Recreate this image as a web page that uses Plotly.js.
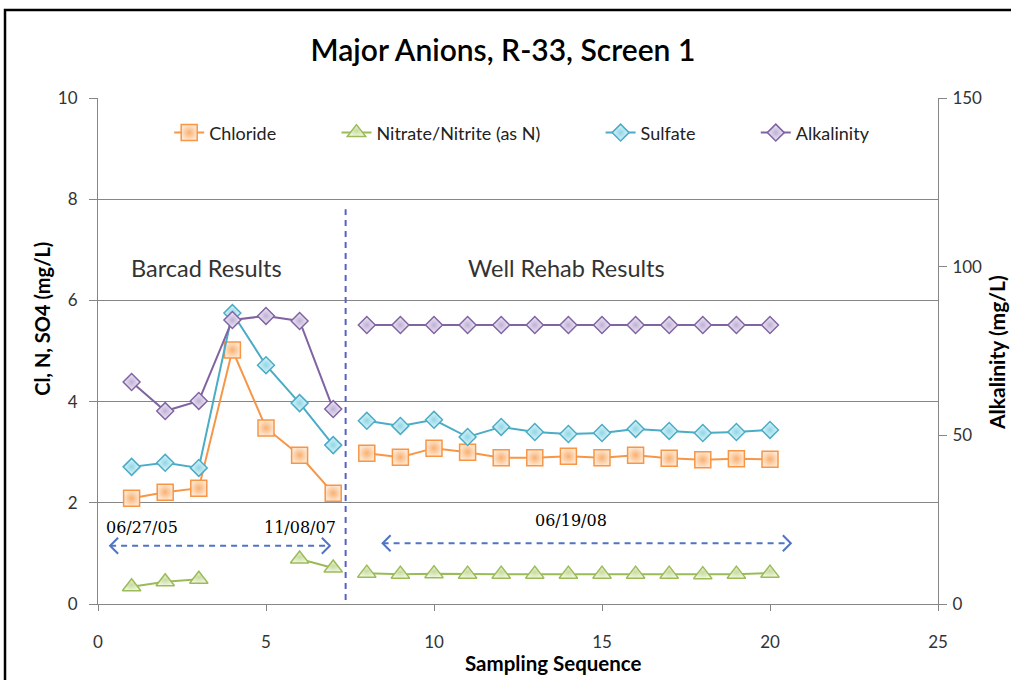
<!DOCTYPE html>
<html>
<head>
<meta charset="utf-8">
<script src="https://cdn.plot.ly/plotly-3.0.1.min.js"></script>
<style>html,body{margin:0;padding:0;background:#fff;}#chart{width:1011px;height:680px;}</style>
</head>
<body>
<div id="chart"></div>
<script>
// ---- data ----
const seq = [1,2,3,4,5,6,7,8,9,10,11,12,13,14,15,16,17,18,19,20];
const rehabStart = 8; // first sampling of the well-rehab phase
const chloride = [2.09,2.21,2.29,5.02,3.48,2.94,2.19, 2.98,2.90,3.08,3.00,2.89,2.89,2.92,2.89,2.94,2.88,2.85,2.87,2.86];
const nitrate  = [0.34,0.44,0.49,null,null,0.89,0.71, 0.61,0.59,0.60,0.59,0.59,0.59,0.59,0.59,0.59,0.59,0.58,0.59,0.61];
const sulfate  = [2.71,2.79,2.69,5.75,4.72,3.97,3.14, 3.62,3.52,3.64,3.30,3.50,3.40,3.36,3.38,3.46,3.42,3.38,3.40,3.44];
const alkalinity = [65.8,57.2,60.2,84.2,85.4,83.9,57.8, 82.7,82.7,82.7,82.7,82.7,82.7,82.7,82.7,82.7,82.7,82.7,82.7,82.7];
const seriesNames = ['Chloride','Nitrate/Nitrite (as N)','Sulfate','Alkalinity'];
const phaseLabels = ['Barcad Results','Well Rehab Results'];
const dateLabels = ['06/27/05','11/08/07','06/19/08'];

// insert a gap between the two phases so the lines are not joined
function gapX(){ const a=[],b=[]; seq.forEach(s=> (s<rehabStart?a:b).push(s)); return a.concat([null],b); }
function gapY(vals){ const a=[],b=[]; seq.forEach((s,i)=> (s<rehabStart?a:b).push(vals[i])); return a.concat([null],b); }
const pad = '\u00a0'.repeat(12); // extra spacing between legend entries

const X = gapX();
function mk(name, vals, color, fill, edge, symbol, size, yaxis, last){
  return {
    type:'scatter', mode:'lines+markers', name: last ? name : name + pad,
    x:X, y:gapY(vals), yaxis:yaxis||'y', connectgaps:false,
    line:{color:color, width:2},
    marker:{symbol:symbol, size:size, color:fill,
            gradient:{type:'radial', color:edge},
            line:{color:color, width:1.5}},
    hoverinfo:'x+y'
  };
}
const traces = [
  mk(seriesNames[0], chloride, '#F79646', '#FEE6D0', '#F9B070', 'square', 16),
  mk(seriesNames[1], nitrate, '#9BBB59', '#F0F6E0', '#C8DB9E', 'triangle-up', 16),
  mk(seriesNames[2], sulfate, '#4BACC6', '#E4F6FA', '#8FD6E6', 'diamond', 13),
  mk(seriesNames[3], alkalinity, '#8064A2', '#F0ECF6', '#BFB0D6', 'diamond', 13, 'y2', true)
];

const tickFont = {family:'Lato, sans-serif', size:17, color:'#333'};
const arrowColor = '#4F74C4';

function chevron(xData, yData, dir){
  // open arrow head drawn in pixels around a data anchor
  const w = 8*dir, h = 8;
  return {type:'path', xref:'x', yref:'y', xsizemode:'pixel', ysizemode:'pixel',
    xanchor:xData, yanchor:yData,
    path:`M ${-w} ${h} L 0 0 L ${-w} ${-h}`,
    line:{color:arrowColor, width:2}};
}

const layout = {
  width:1011, height:680,
  margin:{l:98, r:73, t:98, b:76},
  paper_bgcolor:'#fff', plot_bgcolor:'#fff',
  title:{text:'Major Anions, R-33, Screen 1', x:0.4975, xanchor:'center', y:0.926, yanchor:'middle',
         font:{family:'Lato, sans-serif', size:30, color:'#000', weight:600}},
  showlegend:true,
  legend:{orientation:'h', x:0.505, xanchor:'center', y:0.931, yanchor:'middle',
          font:{family:'Lato, sans-serif', size:18, color:'#222'}, bgcolor:'rgba(0,0,0,0)'},
  xaxis:{range:[0,25], dtick:5, tick0:0, showgrid:false, zeroline:false,
         showline:true, linecolor:'#868686', linewidth:1,
         ticks:'outside', ticklen:6, tickcolor:'#868686', ticklabelstandoff:17,
         tickfont:tickFont},
  yaxis:{range:[0,10], dtick:2, tick0:0, showgrid:true, gridcolor:'#868686', gridwidth:1, zeroline:false,
         showline:true, linecolor:'#868686', ticks:'outside', ticklen:8, tickcolor:'#868686',
         ticklabelstandoff:8, tickfont:tickFont},
  yaxis2:{range:[0,150], dtick:50, tick0:0, overlaying:'y', side:'right', showgrid:false, zeroline:false,
          showline:true, linecolor:'#868686', ticks:'outside', ticklen:8, tickcolor:'#868686',
          ticklabelstandoff:2, tickfont:tickFont},
  annotations:[
    {text:'Cl, N, SO4 (mg/L)', xref:'paper', yref:'paper', x:-0.067, y:0.563, textangle:-90,
     showarrow:false, xanchor:'center', yanchor:'middle',
     font:{family:'Lato, sans-serif', size:20, color:'#000', weight:'bold'}},
    {text:'Alkalinity (mg/L)', xref:'paper', yref:'paper', x:1.069, y:0.498, textangle:-90,
     showarrow:false, xanchor:'center', yanchor:'middle',
     font:{family:'Lato, sans-serif', size:21, color:'#000', weight:'bold'}},
    {text:'Sampling Sequence', xref:'paper', yref:'paper', x:0.542, y:-0.116,
     showarrow:false, xanchor:'center', yanchor:'middle',
     font:{family:'Lato, sans-serif', size:20.5, color:'#000', weight:'bold'}},
    {text:phaseLabels[0], xref:'x', yref:'y', x:3.235, y:6.64, showarrow:false,
     font:{family:'Lato, sans-serif', size:23.5, color:'#333'}},
    {text:phaseLabels[1], xref:'x', yref:'y', x:13.93, y:6.64, showarrow:false,
     font:{family:'Lato, sans-serif', size:23.5, color:'#333'}},
    {text:dateLabels[0], xref:'x', yref:'y', x:1.31, y:1.52, showarrow:false,
     font:{family:'DejaVu Serif, serif', size:16, color:'#000'}},
    {text:dateLabels[1], xref:'x', yref:'y', x:6.0, y:1.52, showarrow:false,
     font:{family:'DejaVu Serif, serif', size:16, color:'#000'}},
    {text:dateLabels[2], xref:'x', yref:'y', x:14.08, y:1.66, showarrow:false,
     font:{family:'DejaVu Serif, serif', size:16, color:'#000'}}
  ],
  shapes:[
    {type:'rect', xref:'paper', yref:'paper', x0:-0.1107, x1:1.3, y0:-0.4, y1:1.174,
     line:{color:'#000', width:2.5}, fillcolor:'rgba(0,0,0,0)'},
    {type:'line', xref:'x', yref:'y', x0:7.37, x1:7.37, y0:0.08, y1:7.8,
     line:{color:'#5562C0', width:2, dash:'6px,5px'}},
    {type:'line', xref:'x', yref:'y', x0:0.36, x1:6.9, y0:1.15, y1:1.15,
     line:{color:arrowColor, width:2, dash:'6px,5px'}},
    chevron(0.36, 1.15, -1), chevron(6.9, 1.15, 1),
    {type:'line', xref:'x', yref:'y', x0:8.47, x1:20.62, y0:1.2, y1:1.2,
     line:{color:arrowColor, width:2, dash:'6px,5px'}},
    chevron(8.47, 1.2, -1), chevron(20.62, 1.2, 1)
  ]
};

Plotly.newPlot('chart', traces, layout, {displayModeBar:false, staticPlot:true});
</script>
</body>
</html>
